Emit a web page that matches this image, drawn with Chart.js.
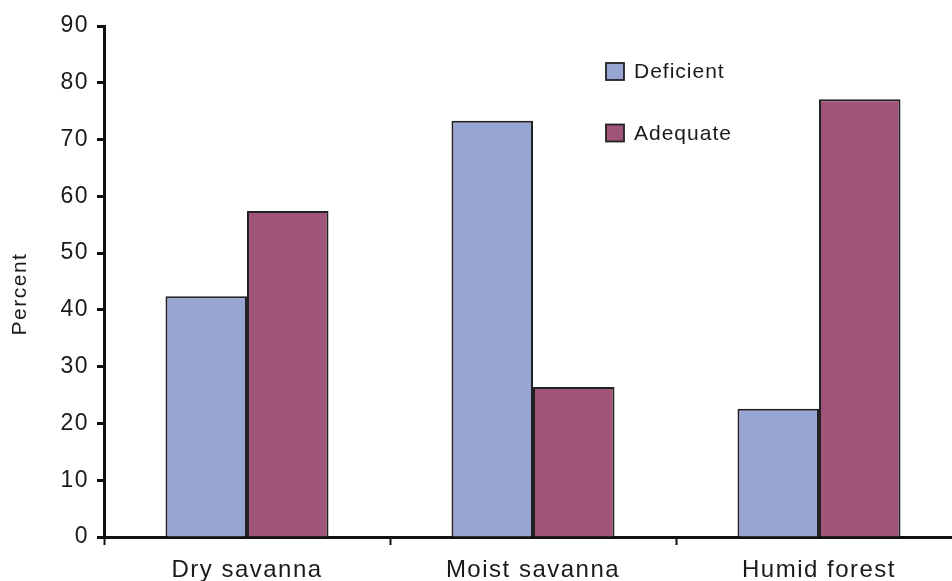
<!DOCTYPE html>
<html>
<head>
<meta charset="utf-8">
<script src="https://cdn.jsdelivr.net/npm/chart.js@4.4.1/dist/chart.umd.min.js"></script>
<style>
  html, body { margin: 0; padding: 0; background: #fff; overflow: hidden; }
  #wrap { width: 952px; height: 581px; overflow: hidden; }
</style>
</head>
<body>
<div id="wrap"><canvas id="myChart" width="972" height="581"></canvas></div>
<script>
// data
const categories = ['Dry savanna', 'Moist savanna', 'Humid forest'];
const seriesNames = ['Deficient', 'Adequate'];
const deficient = [42.4, 73.3, 22.6];
const adequate = [57.4, 26.4, 77.1];
const yMin = 0;
const yMax = 90;
const yStep = 10;
const yTitle = 'Percent';

const colors = ['#99a5d3', '#a05478'];
const ink = '#1a1a1a';
const font = '"Liberation Sans", Arial, sans-serif';

// a little spacing between letters, the original text is wide
const spacingPlugin = {
  id: 'spacing',
  beforeUpdate(chart) { chart.ctx.letterSpacing = '1.5px'; },
  beforeDraw(chart) { chart.ctx.letterSpacing = '1.5px'; }
};

// legend stacked on two rows inside the plot + the y title
const legendPlugin = {
  id: 'sideLegend',
  afterDraw(chart) {
    const ctx = chart.ctx;
    ctx.save();
    ctx.letterSpacing = '1px';
    ctx.font = '21px ' + font;
    ctx.textBaseline = 'middle';
    chart.data.datasets.forEach((ds, i) => {
      const y = 71.5 + i * 61.5;
      ctx.fillStyle = ds.backgroundColor;
      ctx.fillRect(606, y - 8.5, 18, 17);
      ctx.strokeStyle = '#222';
      ctx.lineWidth = 1.8;
      ctx.strokeRect(606, y - 8.5, 18, 17);
      ctx.fillStyle = ink;
      ctx.fillText(ds.label, 634, y + 1);
    });
    ctx.restore();

    // y axis title
    ctx.save();
    ctx.letterSpacing = '1.5px';
    ctx.font = '21px ' + font;
    ctx.fillStyle = ink;
    ctx.textAlign = 'center';
    ctx.textBaseline = 'middle';
    ctx.translate(20, 294);
    ctx.rotate(-Math.PI / 2);
    ctx.fillText(yTitle, 0, 0);
    ctx.restore();
  }
};

const ctx = document.getElementById('myChart').getContext('2d');
const myChart = new Chart(ctx, {
  type: 'bar',
  data: {
    labels: categories,
    datasets: [
      { label: seriesNames[0], data: deficient, backgroundColor: colors[0] },
      { label: seriesNames[1], data: adequate, backgroundColor: colors[1] }
    ].map(ds => Object.assign(ds, {
      borderColor: '#222',
      borderWidth: 2,
      borderSkipped: 'bottom',
      categoryPercentage: 0.57,
      barPercentage: 1
    }))
  },
  options: {
    responsive: false,
    animation: false,
    events: [],
    layout: { padding: { top: 26, right: 10, left: 0, bottom: 0 } },
    plugins: {
      legend: { display: false },
      tooltip: { enabled: false }
    },
    scales: {
      x: {
        afterFit(scale) { scale.height = 44; },
        grid: {
          offset: true,
          drawOnChartArea: false,
          drawTicks: true,
          tickLength: 8,
          tickWidth: 2,
          color: '#111'
        },
        border: { display: true, color: '#111', width: 3 },
        ticks: {
          color: ink,
          padding: 11,
          font: { size: 24, family: font }
        }
      },
      y: {
        min: yMin,
        max: yMax,
        afterFit(scale) { scale.width = 104; },
        grid: {
          drawOnChartArea: false,
          drawTicks: true,
          tickLength: 7,
          tickWidth: 3,
          color: '#111'
        },
        border: { display: true, color: '#111', width: 3 },
        ticks: {
          stepSize: yStep,
          color: ink,
          padding: 8,
          font: { size: 23, family: font }
        }
      }
    }
  },
  plugins: [spacingPlugin, legendPlugin]
});
</script>
</body>
</html>
